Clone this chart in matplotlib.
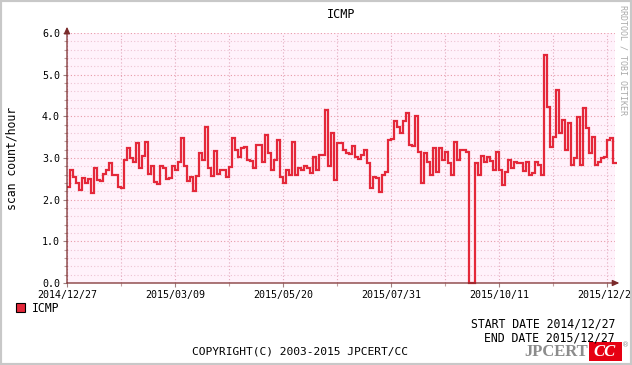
import numpy as np
import pandas as pd
import matplotlib
matplotlib.use('Agg')
import matplotlib.pyplot as plt
from matplotlib.patches import Patch, Rectangle
from matplotlib.ticker import MultipleLocator, FixedLocator, FixedFormatter

plt.rcParams['font.family'] = ['DejaVu Sans Mono']

# --- data: daily ICMP scan count/hour, one value per 2 days ---
start = pd.Timestamp('2014-12-27')
step_days = 2
icmp = [
    2.30, 2.71, 2.55, 2.40, 2.23, 2.52, 2.40, 2.50, 2.15, 2.75,
    2.47, 2.45, 2.62, 2.71, 2.87, 2.60, 2.60, 2.30, 2.28, 2.95,
    3.24, 3.00, 2.91, 3.36, 2.75, 3.05, 3.38, 2.62, 2.80, 2.43,
    2.38, 2.80, 2.75, 2.50, 2.52, 2.80, 2.71, 2.90, 3.47, 2.80,
    2.45, 2.54, 2.20, 2.56, 3.12, 2.95, 3.75, 2.75, 2.57, 3.17,
    2.62, 2.71, 2.71, 2.55, 2.79, 3.47, 3.19, 3.03, 3.24, 3.27,
    2.95, 2.93, 2.75, 3.31, 3.31, 2.91, 3.55, 3.12, 2.71, 2.95,
    3.43, 2.55, 2.40, 2.71, 2.59, 3.39, 2.60, 2.77, 2.71, 2.80,
    2.75, 2.63, 3.03, 2.71, 3.07, 3.07, 4.15, 2.80, 3.59, 2.47,
    3.35, 3.35, 3.20, 3.12, 3.10, 3.30, 3.03, 2.97, 3.07, 3.19,
    2.87, 2.27, 2.55, 2.52, 2.19, 2.60, 2.67, 3.43, 3.45, 3.90,
    3.75, 3.60, 3.90, 4.07, 3.31, 3.30, 4.00, 3.15, 2.39, 3.11,
    2.91, 2.60, 3.24, 2.67, 3.24, 2.95, 3.15, 2.87, 2.60, 3.39,
    2.95, 3.19, 3.20, 3.15, 0.00, 0.00, 2.87, 2.59, 3.05, 2.91,
    3.03, 2.93, 2.71, 3.15, 2.71, 2.35, 2.67, 2.95, 2.75, 2.90,
    2.87, 2.87, 2.70, 2.91, 2.60, 2.63, 2.91, 2.83, 2.60, 5.47,
    4.23, 3.27, 3.51, 4.63, 3.60, 3.91, 3.19, 3.83, 2.83, 2.99,
    3.99, 2.83, 4.19, 3.73, 3.11, 3.50, 2.83, 2.91, 2.99, 3.03,
    3.43, 3.47, 2.87,
]
tick_days = [0, 72, 144, 216, 288, 360]
minor_days = [36, 108, 180, 252, 324]
tick_labels = [(start + pd.Timedelta(days=d)).strftime('%Y/%m/%d') for d in tick_days]

W, H = 632, 365
def fx(px): return px / W
def fy(py): return 1 - py / H

fig = plt.figure(figsize=(W / 100, H / 100), dpi=100)
fig.patch.set_facecolor('white')
# grey frame round the canvas
fig.add_artist(Rectangle((0, 0), 1, 1, transform=fig.transFigure, fill=False,
                         edgecolor='#c8c8c8', lw=3))

ax = fig.add_axes([fx(67), fy(283), (615 - 67) / W, (283 - 33) / H])
ax.set_facecolor('#FFF2FB')
ax.set_xlim(0, 365)
ax.set_ylim(0, 6)

edges = np.arange(len(icmp) + 1) * step_days
ax.stairs(icmp, edges, baseline=None, color='#E4283A', lw=1.6,
          clip_on=False, zorder=3)

# grid
ax.yaxis.set_major_locator(MultipleLocator(1))
ax.yaxis.set_minor_locator(MultipleLocator(0.2))
ax.yaxis.set_major_formatter(plt.FuncFormatter(lambda v, p: f'{v:.1f}'))
ax.xaxis.set_major_locator(FixedLocator(tick_days))
ax.xaxis.set_major_formatter(FixedFormatter(tick_labels))
ax.xaxis.set_minor_locator(FixedLocator(minor_days))
ax.grid(which='major', axis='y', color='#E89AA8', ls=(0, (1, 2)), lw=0.8)
ax.grid(which='minor', axis='y', color='#EDC3D3', ls=(0, (1, 2)), lw=0.8)
ax.grid(which='both', axis='x', color='#E3A9BD', ls=(0, (1, 2)), lw=0.8)
ax.set_axisbelow(True)

for s in ax.spines.values():
    s.set_visible(False)
ax.tick_params(which='major', direction='out', length=3, width=0.8,
               color='#a08080', labelsize=7.2, pad=2, labelcolor='black')
ax.tick_params(which='minor', direction='out', length=2, width=0.8, color='#c0a0a0')

# axes with arrows
ax.annotate('', xy=(0, 1.025), xytext=(0, 0), xycoords='axes fraction',
            arrowprops=dict(arrowstyle='-|>,head_width=0.18,head_length=0.4',
                            color='#7a2a2a', lw=0.9, shrinkA=0, shrinkB=0))
ax.annotate('', xy=(1.008, 0), xytext=(0, 0), xycoords='axes fraction',
            arrowprops=dict(arrowstyle='-|>,head_width=0.18,head_length=0.4',
                            color='#7a2a2a', lw=0.9, shrinkA=0, shrinkB=0))

# texts
fig.text(fx(341), fy(14), 'ICMP', ha='center', va='center', fontsize=8.5)
fig.text(fx(12), fy(158), 'scan count/hour', ha='center', va='center',
         rotation=90, fontsize=8.3)
fig.text(fx(623), fy(5), 'RRDTOOL / TOBI OETIKER', ha='center', va='top',
         rotation=270, fontsize=6, color='#aaaaaa')

fig.legend(handles=[Patch(facecolor='#E4283A', edgecolor='black', lw=0.8)],
           labels=['ICMP'], loc='center left',
           bbox_to_anchor=(fx(10), fy(308)), frameon=False,
           handlelength=0.8, handleheight=0.9, handletextpad=0.6,
           borderpad=0, prop={'size': 8.3})

fig.text(fx(615), fy(324), 'START DATE 2014/12/27', ha='right', va='center', fontsize=8.3)
fig.text(fx(615), fy(338), 'END DATE 2015/12/27', ha='right', va='center', fontsize=8.3)
fig.text(fx(300), fy(352), 'COPYRIGHT(C) 2003-2015 JPCERT/CC', ha='center',
         va='center', fontsize=8.1)

# JPCERT CC logo
fig.text(fx(588), fy(352), 'JPCERT', ha='right', va='center', fontsize=12,
         fontweight='bold', family='Liberation Serif', color='#8c8c8c')
fig.add_artist(Rectangle((fx(589), fy(361)), (622 - 589) / W, (361 - 342) / H,
                         transform=fig.transFigure, facecolor='#E60012',
                         edgecolor='none'))
fig.text(fx(605), fy(352), 'CC', ha='center', va='center', fontsize=12,
         fontweight='bold', fontstyle='italic', family='Liberation Serif',
         color='white')
fig.text(fx(626), fy(345), '®', ha='center', va='center', fontsize=5,
         color='#8c8c8c', family='DejaVu Sans')

fig.savefig('out.png', dpi=100)
